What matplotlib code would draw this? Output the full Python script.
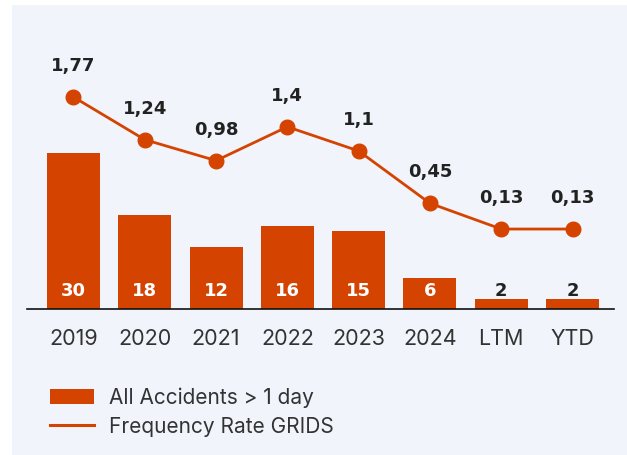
import matplotlib.pyplot as plt
from matplotlib.patches import Rectangle, Patch
from matplotlib.lines import Line2D

categories = ['2019', '2020', '2021', '2022', '2023', '2024', 'LTM', 'YTD']
accidents = [30, 18, 12, 16, 15, 6, 2, 2]
freq_rate = [1.77, 1.24, 0.98, 1.4, 1.1, 0.45, 0.13, 0.13]
freq_labels = ['1,77', '1,24', '0,98', '1,4', '1,1', '0,45', '0,13', '0,13']

orange = '#d54300'
bg = '#f1f4fb'
W, H = 627, 456

plt.rcParams['font.family'] = ['Inter', 'DejaVu Sans']
bold_font = 'DejaVu Sans'

fig = plt.figure(figsize=(W / 100, H / 100), dpi=100)
fig.patch.set_facecolor('white')
fig.patches.append(Rectangle((12 / W, 0), 1 - 12 / W, 1 - 6 / H,
                             transform=fig.transFigure, facecolor=bg,
                             edgecolor='none', zorder=-10))

# axes in pixel layout
left, right, bottom, top = 27, 614, 310, 20
ax = fig.add_axes([left / W, 1 - bottom / H, (right - left) / W, (bottom - top) / H])
ax.set_facecolor('none')
x = list(range(len(categories)))

ax.bar(x, accidents, width=0.745, color=orange, zorder=2)
ax.set_xlim(-0.652, 7.582)
ax.set_ylim(0, (bottom - top) / 5.2)
for xi, v in zip(x, accidents):
    c = 'white' if v > 4 else '#222222'
    ax.text(xi, 3.65, str(v), ha='center', va='center', color=c,
            fontsize=13, fontweight='bold', family=bold_font)

for s in ['top', 'right', 'left']:
    ax.spines[s].set_visible(False)
ax.spines['bottom'].set_color('#111111')
ax.spines['bottom'].set_linewidth(1.2)
ax.set_yticks([])
ax.set_xticks(x)
ax.set_xticklabels(categories, fontsize=15.5, color='#333333')
ax.tick_params(axis='x', length=0, pad=14)

ax2 = ax.twinx()
ax2.set_ylim(-(bottom - 240.5) / 80.5, (240.5 - top) / 80.5)
ax2.plot(x, freq_rate, color=orange, linewidth=2, marker='o', markersize=10.5, zorder=3)
for xi, v, lab in zip(x, freq_rate, freq_labels):
    ax2.annotate(lab, (xi, v), xytext=(0, 23), textcoords='offset points',
                 ha='center', va='center', fontsize=13, fontweight='bold',
                 color='#222222', family=bold_font)
ax2.axis('off')

handles = [Patch(facecolor=orange, edgecolor='none'),
           Line2D([0], [0], color=orange, linewidth=2.2)]
fig.legend(handles, ['All Accidents > 1 day', 'Frequency Rate GRIDS'],
           loc='upper left', bbox_to_anchor=(50 / W, 1 - 388 / H),
           frameon=False, fontsize=15, handlelength=2.1, handleheight=0.75,
           handletextpad=0.75, labelspacing=0.42, borderpad=0, borderaxespad=0,
           labelcolor='#333333')

fig.savefig('out.png', dpi=100)
